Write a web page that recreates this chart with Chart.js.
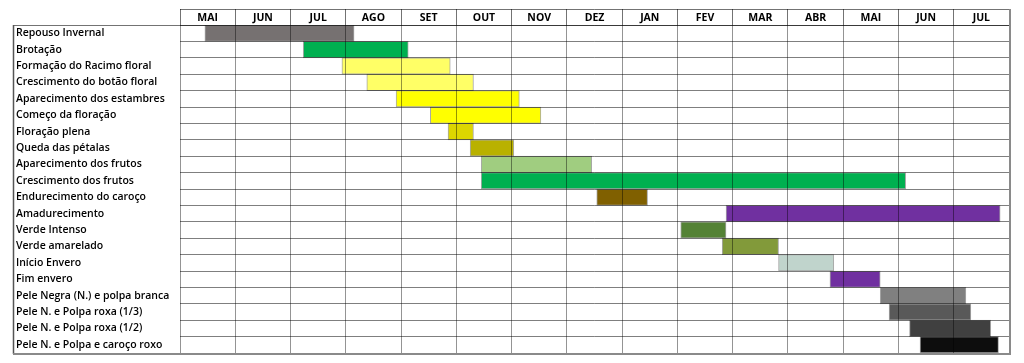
<!DOCTYPE html>
<html lang="pt">
<head>
<meta charset="utf-8">
<title>Ciclo fenológico</title>
<script src="https://cdn.jsdelivr.net/npm/chart.js@4/dist/chart.umd.min.js"></script>
<style>
  html, body { margin: 0; padding: 0; background: #fff; }
  #wrap { width: 1024px; height: 363px; position: relative; }
</style>
</head>
<body>
<div id="wrap"><canvas id="gantt"></canvas></div>
<script>
// Phases of the cycle, one row each; start/end in months counted from the start of the first MAI column.
const months = ['MAI', 'JUN', 'JUL', 'AGO', 'SET', 'OUT', 'NOV', 'DEZ', 'JAN', 'FEV', 'MAR', 'ABR', 'MAI', 'JUN', 'JUL'];

const phases = [
  'Repouso Invernal',
  'Brotação',
  'Formação do Racimo floral',
  'Crescimento do botão floral',
  'Aparecimento dos estambres',
  'Começo da floração',
  'Floração plena',
  'Queda das pétalas',
  'Aparecimento dos frutos',
  'Crescimento dos frutos',
  'Endurecimento do caroço',
  'Amadurecimento',
  'Verde Intenso',
  'Verde amarelado',
  'Início Envero',
  'Fim envero',
  'Pele Negra (N.) e polpa branca',
  'Pele N. e Polpa roxa (1/3)',
  'Pele N. e Polpa roxa (1/2)',
  'Pele N. e Polpa e caroço roxo'
];

const starts = [0.45, 2.23, 2.93, 3.38, 3.91, 4.53, 4.85, 5.25, 5.45, 5.45, 7.54, 9.88, 9.06, 9.81, 10.83, 11.76, 12.67, 12.83, 13.20, 13.39];
const ends   = [3.15, 4.13, 4.89, 5.31, 6.14, 6.53, 5.31, 6.04, 7.45, 13.13, 8.46, 14.84, 9.88, 10.83, 11.83, 12.67, 14.22, 14.31, 14.67, 14.81];

const colors = [
  '#767171', '#00b050', '#ffff66', '#ffff66', '#ffff00', '#ffff00', '#ddd600', '#b9b100',
  '#a0cd80', '#00b050', '#806000', '#7030a0', '#548235', '#829a3a', '#c0d4cc', '#7030a0',
  '#808080', '#595959', '#404040', '#0d0d0d'
];

// table frame: label column box, header top line, heavier right/bottom edges
const frame = {
  id: 'frame',
  afterDraw(chart) {
    const ctx = chart.ctx;
    const a = chart.chartArea;
    const top = chart.scales.x2.top;
    ctx.save();
    ctx.strokeStyle = 'rgba(0,0,0,0.55)';
    ctx.lineWidth = 1;
    ctx.beginPath();
    ctx.moveTo(a.left, top + 0.5); ctx.lineTo(a.right, top + 0.5);
    ctx.moveTo(13, a.top + 0.5); ctx.lineTo(a.left, a.top + 0.5);
    ctx.stroke();
    ctx.strokeStyle = '#555';
    ctx.lineWidth = 1.5;
    ctx.beginPath();
    ctx.moveTo(13.5, a.top); ctx.lineTo(13.5, a.bottom + 1);
    ctx.stroke();
    ctx.strokeStyle = '#8a8a8a';
    ctx.lineWidth = 2;
    ctx.beginPath();
    ctx.moveTo(13, a.bottom + 1); ctx.lineTo(a.right + 1, a.bottom + 1);
    ctx.moveTo(a.right + 1, top); ctx.lineTo(a.right + 1, a.bottom + 2);
    ctx.stroke();
    ctx.restore();
  }
};

new Chart(document.getElementById('gantt'), {
  type: 'bar',
  data: {
    labels: phases,
    datasets: [{
      data: starts.map((s, i) => [s, ends[i]]),
      backgroundColor: colors,
      borderColor: 'rgba(0,0,0,0.35)',
      borderWidth: 1,
      borderSkipped: false,
      barPercentage: 1,
      categoryPercentage: 1
    }]
  },
  options: {
    indexAxis: 'y',
    responsive: true,
    maintainAspectRatio: false,
    animation: false,
    layout: { padding: { left: 16, top: 9, right: 15, bottom: 10 } },
    plugins: { legend: { display: false }, tooltip: { enabled: false } },
    scales: {
      x: {
        type: 'linear',
        min: 0,
        max: months.length,
        ticks: { display: false, stepSize: 1 },
        grid: { color: 'rgba(0,0,0,0.42)', drawTicks: false, z: 1 },
        border: { display: false },
        afterFit(scale) { scale.height = 0; }
      },
      x2: {
        type: 'category',
        position: 'top',
        labels: months,
        offset: true,
        grid: { offset: true, drawOnChartArea: false, tickLength: 16, color: 'rgba(0,0,0,0.55)' },
        border: { display: true, color: 'rgba(0,0,0,0.55)' },
        ticks: {
          color: '#000',
          padding: -15,
          maxRotation: 0,
          autoSkip: false,
          font: { family: 'Open Sans', size: 10.5, weight: 'bold' }
        },
        afterFit(scale) { scale.height = 16; }
      },
      y: {
        type: 'category',
        offset: true,
        grid: { offset: true, drawTicks: false, color: 'rgba(0,0,0,0.5)', z: 1 },
        border: { display: false },
        ticks: {
          color: '#000',
          crossAlign: 'far',
          autoSkip: false,
          padding: 0,
          font: { family: 'Open Sans', size: 10.5, weight: '600' }
        },
        afterFit(scale) { scale.width = 164; }
      }
    }
  },
  plugins: [frame]
});
</script>
</body>
</html>
